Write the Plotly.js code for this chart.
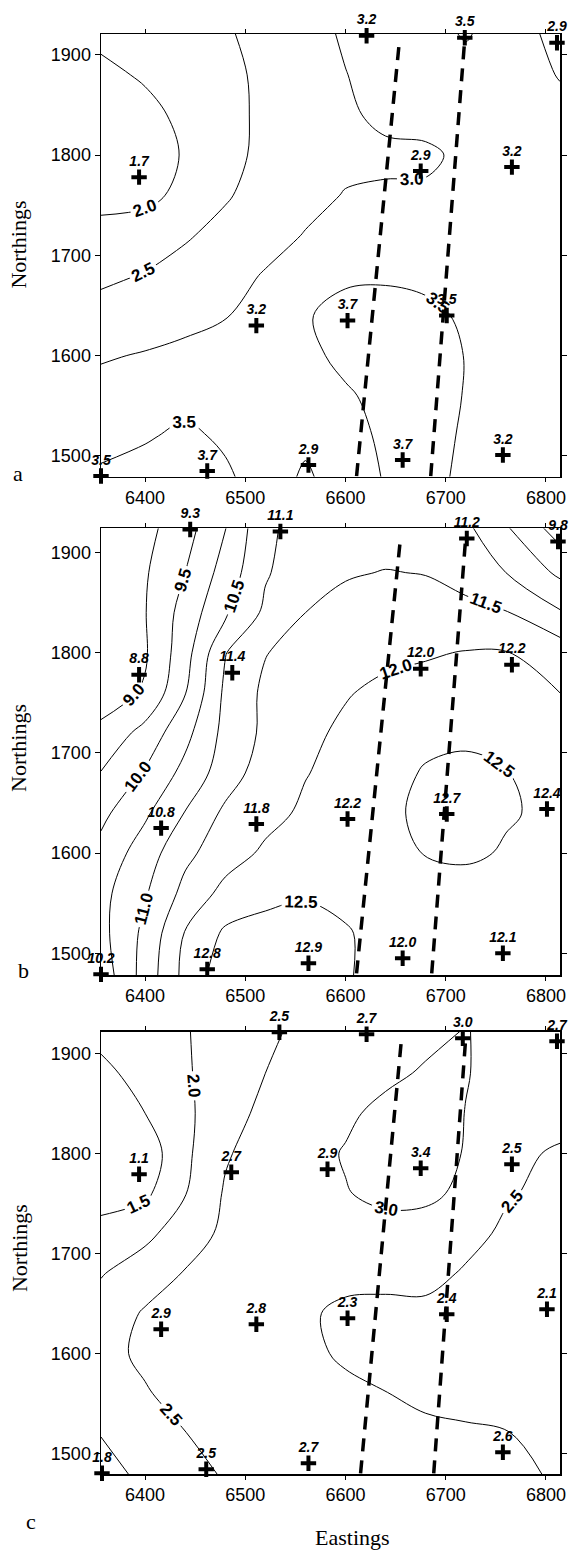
<!DOCTYPE html>
<html>
<head>
<meta charset="utf-8">
<script src="https://cdn.plot.ly/plotly-3.0.1.min.js"></script>
<style>
  html, body { margin: 0; padding: 0; background: #fff; }
  #chart { width: 571px; height: 1550px; }
</style>
</head>
<body>
<div id="chart"></div>
<script>
// ---- Grid nodes (Eastings / Northings) for the contoured surfaces ----
const gridEast = [6356, 6400, 6440, 6480, 6520, 6560, 6600, 6640, 6680, 6720, 6760, 6814];
const gridNorthA = [1479, 1520, 1560, 1600, 1640, 1680, 1720, 1760, 1800, 1840, 1880, 1921];
const gridNorthB = [1478, 1520, 1560, 1600, 1640, 1680, 1720, 1760, 1800, 1840, 1880, 1925];
const gridNorthC = [1479, 1520, 1560, 1600, 1640, 1680, 1720, 1760, 1800, 1840, 1880, 1922];

// Panel a surface (rows south to north)
const surfaceA = [
  [3.55, 3.62, 3.68, 3.55, 3.35, 2.90, 3.35, 3.52, 3.65, 3.40, 3.20, 3.20],
  [3.40, 3.47, 3.56, 3.45, 3.30, 3.15, 3.40, 3.55, 3.65, 3.45, 3.25, 3.20],
  [3.15, 3.30, 3.40, 3.38, 3.30, 3.30, 3.45, 3.62, 3.68, 3.48, 3.30, 3.25],
  [2.96, 3.03, 3.10, 3.15, 3.25, 3.40, 3.60, 3.70, 3.65, 3.49, 3.35, 3.30],
  [2.65, 2.78, 2.88, 2.98, 3.20, 3.45, 3.70, 3.65, 3.58, 3.45, 3.35, 3.30],
  [2.42, 2.52, 2.68, 2.85, 3.03, 3.20, 3.40, 3.45, 3.42, 3.35, 3.30, 3.25],
  [2.15, 2.30, 2.45, 2.65, 2.85, 3.02, 3.15, 3.20, 3.25, 3.30, 3.30, 3.25],
  [1.85, 1.85, 2.15, 2.45, 2.70, 2.88, 3.02, 3.06, 3.08, 3.20, 3.25, 3.20],
  [1.75, 1.72, 2.05, 2.35, 2.62, 2.80, 2.90, 2.91, 2.90, 3.12, 3.20, 3.15],
  [1.75, 1.88, 2.10, 2.35, 2.60, 2.78, 2.93, 3.10, 3.20, 3.25, 3.25, 3.10],
  [1.90, 2.05, 2.20, 2.38, 2.60, 2.80, 2.99, 3.15, 3.25, 3.30, 3.20, 2.98],
  [2.10, 2.20, 2.30, 2.45, 2.65, 2.85, 3.05, 3.20, 3.30, 3.55, 3.25, 2.85]
];

// Panel b surface
const surfaceB = [
  [10.20, 11.20, 12.15, 12.80, 12.85, 12.90, 12.60, 12.10, 12.05, 12.08, 12.10, 12.10],
  [10.35, 11.12, 12.03, 12.58, 12.65, 12.70, 12.55, 12.30, 12.20, 12.15, 12.10, 12.10],
  [10.35, 10.95, 11.65, 12.15, 12.38, 12.45, 12.35, 12.25, 12.28, 12.25, 12.20, 12.15],
  [10.15, 10.75, 11.38, 11.78, 12.08, 12.20, 12.25, 12.35, 12.52, 12.60, 12.45, 12.30],
  [ 9.88, 10.42, 11.02, 11.60, 11.85, 12.08, 12.20, 12.35, 12.65, 12.72, 12.55, 12.38],
  [ 9.52, 10.05, 10.65, 11.25, 11.75, 11.98, 12.15, 12.30, 12.55, 12.62, 12.52, 12.25],
  [ 9.10,  9.68, 10.35, 11.15, 11.60, 11.90, 12.08, 12.20, 12.35, 12.40, 12.30, 12.15],
  [ 8.80,  9.05,  9.98, 11.10, 11.60, 11.80, 11.97, 12.10, 12.15, 12.15, 12.10, 12.00],
  [ 8.70,  8.95,  9.80, 10.98, 11.48, 11.70, 11.82, 11.90, 11.96, 12.02, 12.02, 11.78],
  [ 8.75,  8.98,  9.70, 10.43, 11.10, 11.50, 11.68, 11.78, 11.75, 11.65, 11.53, 11.05],
  [ 8.70,  8.95,  9.50, 10.20, 10.95, 11.30, 11.45, 11.52, 11.48, 11.30, 11.00, 10.40],
  [ 8.70,  8.85,  9.30,  9.98, 10.90, 11.20, 11.20, 11.25, 11.30, 11.10, 10.55,  9.75]
];

// Panel c surface
const surfaceC = [
  [1.80, 2.12, 2.38, 2.53, 2.68, 2.72, 2.68, 2.64, 2.62, 2.62, 2.60, 2.45],
  [2.02, 2.25, 2.49, 2.68, 2.72, 2.72, 2.68, 2.63, 2.60, 2.58, 2.52, 2.35],
  [2.20, 2.45, 2.72, 2.80, 2.75, 2.70, 2.62, 2.51, 2.40, 2.30, 2.25, 2.20],
  [2.30, 2.62, 2.85, 2.85, 2.78, 2.62, 2.42, 2.30, 2.30, 2.25, 2.20, 2.15],
  [2.20, 2.55, 2.85, 2.82, 2.80, 2.60, 2.35, 2.32, 2.38, 2.35, 2.20, 2.10],
  [1.97, 2.25, 2.53, 2.70, 2.78, 2.75, 2.72, 2.70, 2.65, 2.45, 2.30, 2.25],
  [1.62, 1.88, 2.25, 2.60, 2.72, 2.78, 2.80, 2.85, 2.80, 2.65, 2.42, 2.30],
  [1.35, 1.40, 1.98, 2.55, 2.75, 2.85, 2.98, 3.10, 3.10, 2.90, 2.55, 2.35],
  [1.30, 1.20, 1.90, 2.45, 2.72, 2.85, 3.03, 3.25, 3.38, 2.95, 2.60, 2.45],
  [1.30, 1.50, 1.90, 2.30, 2.62, 2.78, 2.92, 3.12, 3.25, 2.99, 2.78, 2.65],
  [1.40, 1.65, 1.95, 2.22, 2.50, 2.70, 2.80, 2.90, 3.05, 3.02, 2.85, 2.72],
  [1.62, 1.80, 1.97, 2.20, 2.42, 2.60, 2.68, 2.75, 2.88, 3.02, 2.85, 2.70]
];

// ---- Sampling stations ----
const stationEastA = [6621, 6719, 6811, 6394, 6675, 6766, 6511, 6602, 6701, 6356, 6462, 6563, 6657, 6757];
const stationNorthA = [1919, 1917, 1912, 1778, 1784, 1788, 1630, 1635, 1640, 1480, 1485, 1491, 1496, 1501];
const stationValueA = [3.2, 3.5, 2.9, 1.7, 2.9, 3.2, 3.2, 3.7, 3.5, 3.5, 3.7, 2.9, 3.7, 3.2];

const stationEastB = [6445, 6535, 6721, 6812, 6394, 6487, 6675, 6766, 6416, 6511, 6602, 6701, 6801, 6356, 6462, 6563, 6657, 6757];
const stationNorthB = [1923, 1921, 1914, 1911, 1778, 1780, 1784, 1788, 1625, 1629, 1634, 1639, 1644, 1479, 1484, 1490, 1495, 1500];
const stationValueB = [9.3, 11.1, 11.2, 9.8, 8.8, 11.4, 12.0, 12.2, 10.8, 11.8, 12.2, 12.7, 12.4, 10.2, 12.8, 12.9, 12.0, 12.1];

const stationEastC = [6534, 6621, 6717, 6811, 6394, 6486, 6582, 6675, 6766, 6416, 6511, 6602, 6701, 6801, 6357, 6461, 6563, 6757];
const stationNorthC = [1921, 1919, 1915, 1912, 1779, 1781, 1784, 1785, 1789, 1624, 1629, 1635, 1639, 1644, 1480, 1484, 1490, 1501];
const stationValueC = [2.5, 2.7, 3.0, 2.7, 1.1, 2.7, 2.9, 3.4, 2.5, 2.9, 2.8, 2.3, 2.4, 2.1, 1.8, 2.5, 2.7, 2.6];

// ---- Fault traces (south end, north end) ----
const faultNorth = [1480, 1916];
const faultWestA = [6611, 6654], faultEastA = [6685, 6719];
const faultWestB = [6611, 6655], faultEastB = [6686, 6720];
const faultWestC = [6615, 6656], faultEastC = [6688, 6720];

// ---- Contour levels ----
const levelsA = {start: 2.0, end: 3.5, size: 0.5};
const levelsB = {start: 9.0, end: 12.5, size: 0.5};
const levelsC = {start: 1.5, end: 3.0, size: 0.5};

const eastTicks = [6400, 6500, 6600, 6700, 6800];
const northTicks = [1500, 1600, 1700, 1800, 1900];

const numFont = 'Liberation Sans, Arial, sans-serif';
const serifFont = 'Liberation Serif, Times New Roman, serif';

function contourTrace(z, north, levels, xa, ya) {
  return {
    type: 'contour', x: gridEast, y: north, z: z, xaxis: xa, yaxis: ya,
    showscale: false, hoverinfo: 'skip',
    contours: {
      start: levels.start, end: levels.end, size: levels.size,
      coloring: 'none', showlabels: true, labelformat: '.1f',
      labelfont: {family: numFont, size: 17, color: '#000', weight: 'bold'}
    },
    line: {color: '#000', width: 1, smoothing: 1}
  };
}

function faultTrace(xs, xa, ya) {
  return {
    type: 'scatter', mode: 'lines', x: xs, y: faultNorth, xaxis: xa, yaxis: ya,
    line: {color: '#000', width: 3.5, dash: '13px,9px'}, hoverinfo: 'skip', cliponaxis: false
  };
}

function stationTrace(xs, ys, vals, xa, ya) {
  return {
    type: 'scatter', mode: 'markers+text', x: xs, y: ys, xaxis: xa, yaxis: ya,
    text: vals.map(v => v.toFixed(1)), textposition: 'top center',
    textfont: {family: numFont, size: 14, color: '#000', style: 'italic', weight: 'bold'},
    marker: {symbol: 'cross-thin', size: 11, color: '#000', line: {color: '#000', width: 4}},
    cliponaxis: false, hoverinfo: 'skip'
  };
}

const data = [
  contourTrace(surfaceA, gridNorthA, levelsA, 'x', 'y'),
  faultTrace(faultWestA, 'x', 'y'), faultTrace(faultEastA, 'x', 'y'),
  stationTrace(stationEastA, stationNorthA, stationValueA, 'x', 'y'),

  contourTrace(surfaceB, gridNorthB, levelsB, 'x2', 'y2'),
  faultTrace(faultWestB, 'x2', 'y2'), faultTrace(faultEastB, 'x2', 'y2'),
  stationTrace(stationEastB, stationNorthB, stationValueB, 'x2', 'y2'),

  contourTrace(surfaceC, gridNorthC, levelsC, 'x3', 'y3'),
  faultTrace(faultWestC, 'x3', 'y3'), faultTrace(faultEastC, 'x3', 'y3'),
  stationTrace(stationEastC, stationNorthC, stationValueC, 'x3', 'y3')
];

function xAxis(anchor) {
  return {
    anchor: anchor, domain: [0, 1], range: [6356, 6814],
    tickvals: eastTicks, ticks: 'outside', ticklen: 4, tickwidth: 1, tickcolor: '#000',
    mirror: 'ticks', showline: true, linecolor: '#000', linewidth: 1.5,
    showgrid: false, zeroline: false,
    tickfont: {family: numFont, size: 18, color: '#000'}
  };
}
function yAxis(anchor, domain, range) {
  return {
    anchor: anchor, domain: domain, range: range,
    tickvals: northTicks, ticks: 'outside', ticklen: 5, tickwidth: 1, tickcolor: '#000',
    mirror: 'ticks', showline: true, linecolor: '#000', linewidth: 1.5,
    showgrid: false, zeroline: false,
    tickfont: {family: numFont, size: 18, color: '#000'}
  };
}

const serif22 = {family: serifFont, size: 22, color: '#000'};
function note(text, x, y, angle) {
  return {text: text, xref: 'paper', yref: 'paper', x: x, y: y, showarrow: false,
          xanchor: 'center', yanchor: 'middle', textangle: angle || 0, font: serif22};
}

const layout = {
  width: 571, height: 1550,
  margin: {l: 101, r: 11, t: 34, b: 76},
  paper_bgcolor: '#fff', plot_bgcolor: '#fff',
  showlegend: false,
  xaxis: xAxis('y'), xaxis2: xAxis('y2'), xaxis3: xAxis('y3'),
  yaxis: yAxis('x', [0.6926, 1.0], [1479.4, 1920.7]),
  yaxis2: yAxis('x2', [0.3465, 0.6567], [1478.3, 1924.2]),
  yaxis3: yAxis('x3', [0, 0.3072], [1479.3, 1921.6]),
  annotations: [
    note('Northings', -0.1786, 0.8538, -90),
    note('Northings', -0.1786, 0.5042, -90),
    note('Northings', -0.1786, 0.1569, -90),
    note('a', -0.1808, 0.6951),
    note('b', -0.1678, 0.3500),
    note('c', -0.1525, -0.0333),
    note('Eastings', 0.549, -0.0444)
  ]
};

Plotly.newPlot('chart', data, layout, {staticPlot: true, displayModeBar: false});
</script>
</body>
</html>
